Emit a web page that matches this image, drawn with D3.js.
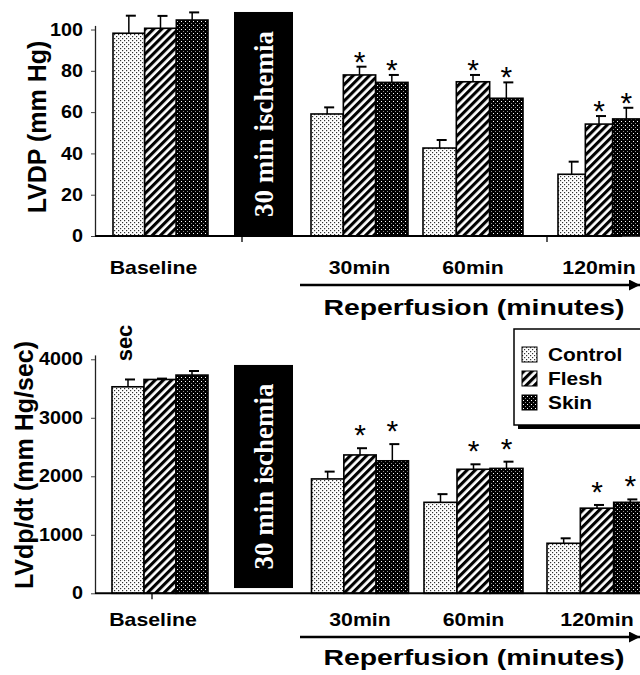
<!DOCTYPE html>
<html>
<head>
<meta charset="utf-8">
<script src="https://cdn.jsdelivr.net/npm/d3@7"></script>
<style>
  body { margin: 0; background: #fff; }
  text { font-family: "Liberation Sans", Arial, sans-serif; font-weight: bold; fill: #000; }
</style>
</head>
<body>
<div id="chart"></div>
<script>
// ---- data ----
const groups = ["Baseline", "30min", "60min", "120min"];
const series = ["Control", "Flesh", "Skin"];

const lvdpControl = [98.2, 59.1, 42.6, 29.9];
const lvdpFlesh   = [100.6, 78.0, 74.7, 54.2];
const lvdpSkin    = [104.6, 74.4, 66.7, 56.7];
const lvdpControlErr = [8.5, 3.2, 3.9, 6.1];
const lvdpFleshErr   = [6.0, 4.0, 3.3, 3.9];
const lvdpSkinErr    = [3.7, 3.6, 7.7, 5.4];
const lvdpTicks = [0, 20, 40, 60, 80, 100];

const dpdtControl = [3530, 1955, 1555, 855];
const dpdtFlesh   = [3655, 2365, 2120, 1455];
const dpdtSkin    = [3730, 2265, 2135, 1555];
const dpdtControlErr = [125, 125, 140, 85];
const dpdtFleshErr   = [15, 115, 85, 55];
const dpdtSkinErr    = [70, 285, 115, 50];
const dpdtTicks = [0, 1000, 2000, 3000, 4000];

// p < 0.05 vs control (asterisks)
const controlStar = [false, false, false, false];
const fleshStar   = [false, true, true, true];
const skinStar    = [false, true, true, true];

// ---- layout ----
const W = 640, H = 675;
const svg = d3.select("#chart").append("svg")
    .attr("width", W)
    .attr("height", H);

const defs = svg.append("defs");

// stipple for Control
const pCtrl = defs.append("pattern").attr("id", "pat-Control")
    .attr("patternUnits", "userSpaceOnUse").attr("width", 4).attr("height", 4);
pCtrl.append("rect").attr("width", 4).attr("height", 4).attr("fill", "#fff");
pCtrl.append("rect").attr("x", 0).attr("y", 0).attr("width", 1.2).attr("height", 1.2).attr("fill", "#333");
pCtrl.append("rect").attr("x", 2).attr("y", 2).attr("width", 1.2).attr("height", 1.2).attr("fill", "#333");

// diagonal hatch for Flesh
const pFlesh = defs.append("pattern").attr("id", "pat-Flesh")
    .attr("patternUnits", "userSpaceOnUse").attr("width", 5.8).attr("height", 10)
    .attr("patternTransform", "rotate(45)");
pFlesh.append("rect").attr("width", 5.8).attr("height", 10).attr("fill", "#fff");
pFlesh.append("rect").attr("width", 3.1).attr("height", 10).attr("fill", "#000");

// dark speckle for Skin
const pSkin = defs.append("pattern").attr("id", "pat-Skin")
    .attr("patternUnits", "userSpaceOnUse").attr("width", 4).attr("height", 4);
pSkin.append("rect").attr("width", 4).attr("height", 4).attr("fill", "#000");
pSkin.append("rect").attr("x", 1).attr("y", 1).attr("width", 1).attr("height", 1).attr("fill", "#fff");
pSkin.append("rect").attr("x", 3).attr("y", 3).attr("width", 0.8).attr("height", 0.8).attr("fill", "#ddd");

defs.append("marker").attr("id", "arrow")
    .attr("markerUnits", "userSpaceOnUse")
    .attr("markerWidth", 11).attr("markerHeight", 11)
    .attr("refX", 11).attr("refY", 5.5).attr("orient", "auto")
  .append("path").attr("d", "M0,0 L11,5.5 L0,11 Z").attr("fill", "#000");

// stretch text horizontally (the original lettering is wide)
function stretch(sel, k) {
    sel.each(function () {
        const w = this.getComputedTextLength();
        d3.select(this).attr("textLength", w * k).attr("lengthAdjust", "spacingAndGlyphs");
    });
}

const charts = [
    {
        values: [lvdpControl, lvdpFlesh, lvdpSkin],
        errors: [lvdpControlErr, lvdpFleshErr, lvdpSkinErr],
        ticks: lvdpTicks, yMax: 102, yRange: [236, 25.4],
        groupLeft: [113, 311, 423, 558], groupWidth: [95, 97, 100, 82],
        ischemia: [108.5, 0], axisEnd: 622, xTicks: [242, 547],
        title: "LVDP (mm Hg)", titleX: 46, titleY: 127,
        labelY: 274, arrowY: 285, reperfY: 315, starGap: 12
    },
    {
        values: [dpdtControl, dpdtFlesh, dpdtSkin],
        errors: [dpdtControlErr, dpdtFleshErr, dpdtSkinErr],
        ticks: dpdtTicks, yMax: 4075, yRange: [593.3, 354.9],
        groupLeft: [112, 311.5, 424, 547], groupWidth: [96, 97, 99, 100],
        ischemia: [3903, 90], axisEnd: 640, xTicks: [152],
        title: "LVdp/dt (mm Hg/sec)", titleX: 33, titleY: 465,
        labelY: 626, arrowY: 637, reperfY: 665, starGap: 20
    }
];

const stars = [controlStar, fleshStar, skinStar];

charts.forEach(c => {
    const y = d3.scaleLinear().domain([0, c.yMax]).range(c.yRange);
    const gx = d3.scaleOrdinal().domain(groups).range(c.groupLeft);
    const gw = d3.scaleOrdinal().domain(groups).range(c.groupWidth);

    const rows = [];
    groups.forEach((g, gi) => {
        series.forEach((s, si) => {
            rows.push({ group: g, series: s, value: c.values[si][gi], err: c.errors[si][gi], star: stars[si][gi] });
        });
    });
    const xOf = d => {
        const inner = d3.scaleBand().domain(series).range([0, gw(d.group)]);
        return { x: gx(d.group) + inner(d.series), w: inner.bandwidth() };
    };

    // ischemia block
    const isch = svg.append("g");
    isch.append("rect")
        .attr("x", 234).attr("width", 59)
        .attr("y", y(c.ischemia[0]))
        .attr("height", y(c.ischemia[1]) - y(c.ischemia[0]))
        .attr("fill", "#000");
    isch.append("text")
        .attr("transform", `translate(273,${(y(c.ischemia[0]) + y(c.ischemia[1])) / 2}) rotate(-90)`)
        .attr("text-anchor", "middle")
        .style("font-family", "'Liberation Serif', 'Times New Roman', serif")
        .style("font-size", "27px")
        .style("fill", "#fff")
        .text("30 min ischemia");

    // bars
    svg.append("g").selectAll("rect")
        .data(rows)
        .join("rect")
        .attr("x", d => xOf(d).x)
        .attr("width", d => xOf(d).w)
        .attr("y", d => y(d.value))
        .attr("height", d => y(0) - y(d.value))
        .attr("fill", d => `url(#pat-${d.series})`)
        .attr("stroke", "#000")
        .attr("stroke-width", 1.6);

    // error bars
    const eb = svg.append("g").attr("stroke", "#000");
    eb.selectAll("line.v")
        .data(rows)
        .join("line")
        .attr("class", "v")
        .attr("x1", d => xOf(d).x + xOf(d).w / 2)
        .attr("x2", d => xOf(d).x + xOf(d).w / 2)
        .attr("y1", d => y(d.value))
        .attr("y2", d => y(d.value + d.err))
        .attr("stroke-width", 1.5);
    eb.selectAll("line.cap")
        .data(rows)
        .join("line")
        .attr("class", "cap")
        .attr("x1", d => xOf(d).x + xOf(d).w / 2 - 3)
        .attr("x2", d => xOf(d).x + xOf(d).w / 2 + 7)
        .attr("y1", d => y(d.value + d.err))
        .attr("y2", d => y(d.value + d.err))
        .attr("stroke-width", 2);

    // asterisks
    svg.append("g").selectAll("text")
        .data(rows.filter(d => d.star))
        .join("text")
        .attr("x", d => xOf(d).x + xOf(d).w / 2)
        .attr("y", d => y(d.value + d.err) - c.starGap + 17)
        .attr("text-anchor", "middle")
        .style("font-weight", "normal")
        .style("font-size", "30px")
        .text("*");

    // y axis
    const ya = svg.append("g")
        .attr("transform", "translate(95,0)")
        .call(d3.axisLeft(y).tickValues(c.ticks).tickFormat(d3.format("d"))
            .tickSize(4).tickSizeOuter(0).tickPadding(8));
    ya.select(".domain").attr("stroke", "#222").attr("stroke-width", 1.3);
    ya.selectAll(".tick line").attr("stroke", "#444");
    ya.selectAll(".tick text")
        .style("font-size", "17.5px")
        .style("font-family", "'Liberation Sans', Arial, sans-serif")
        .style("font-weight", "bold")
        .attr("fill", "#000")
        .call(stretch, 1.13);

    svg.append("text")
        .attr("transform", `translate(${c.titleX},${c.titleY}) rotate(-90)`)
        .attr("text-anchor", "middle")
        .style("font-size", "25px")
        .text(c.title);

    // x axis line and ticks
    svg.append("line")
        .attr("x1", 95).attr("x2", c.axisEnd)
        .attr("y1", y(0)).attr("y2", y(0))
        .attr("stroke", "#000").attr("stroke-width", 2);
    svg.append("g").selectAll("line")
        .data(c.xTicks)
        .join("line")
        .attr("x1", d => d).attr("x2", d => d)
        .attr("y1", y(0)).attr("y2", y(0) + 6)
        .attr("stroke", "#000").attr("stroke-width", 1.3);

    // group labels
    svg.append("g").selectAll("text")
        .data(groups)
        .join("text")
        .attr("x", g => gx(g) + gw(g) / 2 - (g === "Baseline" ? 7 : 0))
        .attr("y", c.labelY)
        .attr("text-anchor", "middle")
        .style("font-size", "19px")
        .text(g => g)
        .call(stretch, 1.12);

    // reperfusion arrow
    svg.append("line")
        .attr("x1", 300).attr("x2", 640)
        .attr("y1", c.arrowY).attr("y2", c.arrowY)
        .attr("stroke", "#000").attr("stroke-width", 2.5)
        .attr("marker-end", "url(#arrow)");
    svg.append("text")
        .attr("x", 474).attr("y", c.reperfY)
        .attr("text-anchor", "middle")
        .style("font-size", "22px")
        .text("Reperfusion (minutes)")
        .call(stretch, 1.29);
});

// stray "sec" label above the lower axis
svg.append("text")
    .attr("transform", "translate(132,343) rotate(-90)")
    .attr("text-anchor", "middle")
    .style("font-size", "22px")
    .text("sec");

// legend
const legend = svg.append("g").attr("transform", "translate(514,329)");
legend.append("rect")
    .attr("x", 4).attr("y", 4).attr("width", 140).attr("height", 96)
    .attr("fill", "#000");
legend.append("rect")
    .attr("width", 140).attr("height", 96)
    .attr("fill", "#fff").attr("stroke", "#000").attr("stroke-width", 1.5);
const li = legend.selectAll(".legend")
    .data(series)
    .join("g")
    .attr("class", "legend")
    .attr("transform", (d, i) => `translate(8,${18 + i * 24})`);
li.append("rect")
    .attr("width", 15).attr("height", 15)
    .attr("fill", d => `url(#pat-${d})`)
    .attr("stroke", "#000").attr("stroke-width", 1);
li.append("text")
    .attr("x", 26).attr("y", 14)
    .style("font-size", "18px")
    .text(d => d)
    .call(stretch, 1.16);
</script>
</body>
</html>
